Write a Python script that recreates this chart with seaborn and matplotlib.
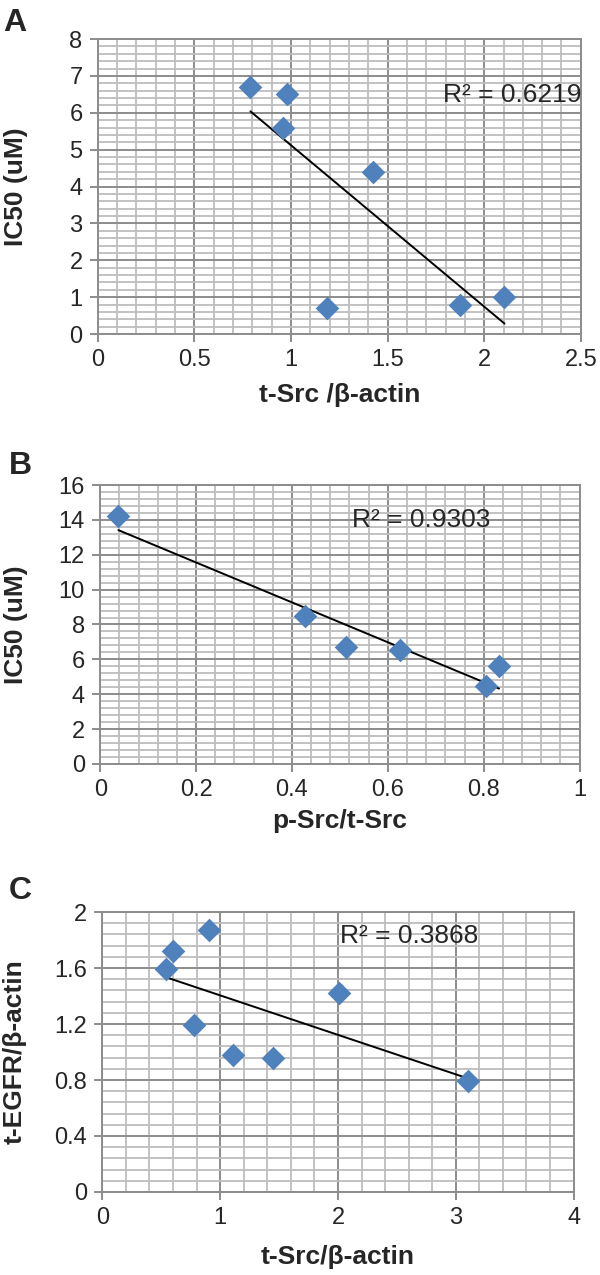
import matplotlib
matplotlib.use("Agg")
import matplotlib.pyplot as plt
from matplotlib.ticker import MultipleLocator, FuncFormatter
import seaborn as sns
import pandas as pd

# panel A: t-Src/b-actin vs IC50
a_x = [0.79, 0.978, 0.958, 1.425, 1.185, 1.875, 2.105]
a_y = [6.7, 6.5, 5.6, 4.4, 0.7, 0.8, 1.0]

# panel B: p-Src/t-Src vs IC50
b_x = [0.038, 0.428, 0.512, 0.626, 0.804, 0.832]
b_y = [14.2, 8.5, 6.7, 6.55, 4.45, 5.6]

# panel C: t-Src/b-actin vs t-EGFR/b-actin
c_x = [0.537, 0.602, 0.904, 0.78, 1.106, 1.447, 2.01, 3.10]
c_y = [1.59, 1.72, 1.875, 1.19, 0.98, 0.96, 1.425, 0.795]

r2_texts = ["R² = 0.6219", "R² = 0.9303", "R² = 0.3868"]
x_labels = ["t-Src /β-actin", "p-Src/t-Src", "t-Src/β-actin"]
y_labels = ["IC50 (uM)", "IC50 (uM)", "t-EGFR/β-actin"]
panel_letters = ["A", "B", "C"]

MARKER_COLOR = "#4f81bd"
MAJOR_GRID = "#8c8c8c"
MINOR_GRID = "#bdbdbd"

sns.set_theme(style="white")
plt.rcParams['font.family'] = ['Liberation Sans', 'DejaVu Sans']

fig = plt.figure(figsize=(6, 12.75), dpi=100)

# axes rectangles in figure fractions
rects = [
    [0.163, 0.738, 0.805, 0.2314],
    [0.167, 0.4008, 0.799, 0.2188],
    [0.1705, 0.0651, 0.7855, 0.2196],
]
limits = [
    dict(xlim=(0, 2.5), ylim=(0, 8), xmaj=0.5, xmin=0.1, ymaj=1, ymin=0.2),
    dict(xlim=(0, 1), ylim=(0, 16), xmaj=0.2, xmin=0.04, ymaj=2, ymin=0.4),
    dict(xlim=(0, 4), ylim=(0, 2), xmaj=1, xmin=0.2, ymaj=0.4, ymin=0.08),
]
r2_pos = [(0.715, 0.81), (0.525, 0.875), (0.504, 0.915)]
letter_pos = [(0.006, 0.994), (0.015, 0.646), (0.015, 0.313)]
xlabel_y = [-0.207, -0.204, -0.232]
ylabel_x = [-0.17, -0.175, -0.185]

datasets = [(a_x, a_y), (b_x, b_y), (c_x, c_y)]

for i, (xs, ys) in enumerate(datasets):
    ax = fig.add_axes(rects[i])
    lim = limits[i]
    df = pd.DataFrame({'x': xs, 'y': ys})

    ax.set_xlim(*lim['xlim'])
    ax.set_ylim(*lim['ylim'])
    ax.xaxis.set_major_locator(MultipleLocator(lim['xmaj']))
    ax.xaxis.set_minor_locator(MultipleLocator(lim['xmin']))
    ax.yaxis.set_major_locator(MultipleLocator(lim['ymaj']))
    ax.yaxis.set_minor_locator(MultipleLocator(lim['ymin']))

    ax.grid(True, which='minor', color=MINOR_GRID, lw=1.3, zorder=0)
    ax.grid(True, which='major', color=MAJOR_GRID, lw=1.4, zorder=0.5)
    ax.set_axisbelow(True)

    sns.regplot(data=df, x='x', y='y', ax=ax, scatter=False, ci=None, truncate=True,
                line_kws=dict(color='black', lw=1.4, zorder=3))
    sns.scatterplot(data=df, x='x', y='y', ax=ax, marker='D', s=145, color=MARKER_COLOR,
                    linewidth=0, zorder=4, clip_on=False)

    for side in ['left', 'bottom', 'top', 'right']:
        ax.spines[side].set_color(MAJOR_GRID)
        ax.spines[side].set_linewidth(1.4)

    ax.tick_params(axis='both', which='major', direction='out', length=6, width=1.4,
                   color=MAJOR_GRID, labelsize=17, pad=5, bottom=True, left=True)
    ax.tick_params(axis='both', which='minor', length=0)
    ax.xaxis.set_major_formatter(FuncFormatter(lambda v, p: f"{v:g}"))
    ax.yaxis.set_major_formatter(FuncFormatter(lambda v, p: f"{v:g}"))

    ax.set_xlabel(x_labels[i], fontsize=19, fontweight='bold', va='center')
    ax.set_ylabel(y_labels[i], fontsize=19, fontweight='bold', va='center')
    ax.xaxis.set_label_coords(0.5, xlabel_y[i])
    ax.yaxis.set_label_coords(ylabel_x[i], 0.5)

    ax.text(r2_pos[i][0], r2_pos[i][1], r2_texts[i], transform=ax.transAxes,
            fontsize=19, ha='left', va='center', zorder=5)

    fig.text(letter_pos[i][0], letter_pos[i][1], panel_letters[i], fontsize=23,
             fontweight='bold', ha='left', va='top')

fig.savefig("out.png", dpi=100)
